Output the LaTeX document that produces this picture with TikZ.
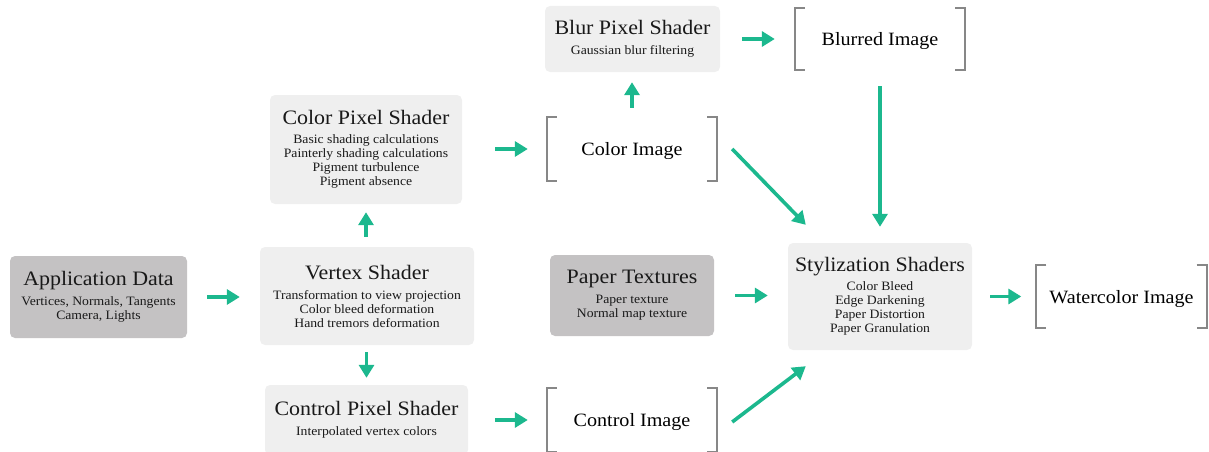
\documentclass[tikz,border=0pt]{standalone}
\usepackage{fontspec}
\setmainfont{Liberation Serif}[FakeStretch=1.07]
\usetikzlibrary{arrows.meta}
\definecolor{lightbox}{RGB}{239,239,239}
\definecolor{darkbox}{RGB}{196,194,195}
\definecolor{flowc}{RGB}{28,184,142}
\definecolor{brk}{RGB}{135,135,135}
\newcommand{\ttl}{\fontsize{20.5}{23}\selectfont}
\newcommand{\imgf}{\fontsize{18.8}{22}\selectfont}
\newcommand{\sbt}{\fontsize{12.8}{14}\selectfont}
\begin{document}
\begin{tikzpicture}[x=1pt,y=-1pt,
  box/.style={rounded corners=5pt, align=center, inner sep=0pt, text=black!90, font=\sbt},
  light/.style={box, fill=lightbox},
  dark/.style={box, fill=darkbox},
  imgnode/.style={inner sep=0pt, minimum width=170pt, font=\imgf, text depth=0pt},
  bracket/.style={draw=brk, line width=1.8pt},
  flow/.style={-{Triangle[length=13pt,width=15pt]}, line width=3.6pt, draw=flowc}]
\useasboundingbox (0,0) rectangle (1209,452);

% boxes
\node[dark, minimum width=177pt, minimum height=82pt] (app) at (98.5,297)
  {{\ttl Application Data}\\[6pt]Vertices, Normals, Tangents\\Camera, Lights};
\node[light, minimum width=214pt, minimum height=98pt] (vs) at (367,296)
  {{\ttl Vertex Shader}\\[6pt]Transformation to view projection\\Color bleed deformation\\Hand tremors deformation};
\node[light, minimum width=192pt, minimum height=109pt] (cps) at (366,149.5)
  {{\ttl Color Pixel Shader}\\[5pt]Basic shading calculations\\Painterly shading calculations\\Pigment turbulence\\Pigment absence};
\node[light, minimum width=203pt, minimum height=70pt] (ctps) at (366.5,420)
  {{\ttl Control Pixel Shader}\\[6pt]Interpolated vertex colors};
\node[light, minimum width=175pt, minimum height=66pt] (blur) at (632.5,39)
  {{\ttl Blur Pixel Shader}\\[6pt]Gaussian blur filtering};
\node[dark, minimum width=164pt, minimum height=81pt] (paper) at (632,295.5)
  {{\ttl Paper Textures}\\[6pt]Paper texture\\Normal map texture};
\node[light, minimum width=184pt, minimum height=107pt] (sty) at (880,296.5)
  {{\ttl Stylization Shaders}\\[5pt]Color Bleed\\Edge Darkening\\Paper Distortion\\Paper Granulation};

% image nodes with brackets
\node[imgnode, minimum height=62pt] (blurred) at (880,39) {Blurred Image};
\node[imgnode, minimum height=64pt] (ci) at (632,149) {Color Image};
\node[imgnode, minimum height=63pt] (cti) at (632,420) {Control Image};
\node[imgnode, minimum height=63pt] (wi) at (1121.5,296.5) {Watercolor Image};

\foreach \n in {blurred,ci,cti,wi}{
  \draw[bracket] ([xshift=10pt]\n.north west) -- (\n.north west) -- (\n.south west) -- ([xshift=10pt]\n.south west);
  \draw[bracket] ([xshift=-10pt]\n.north east) -- (\n.north east) -- (\n.south east) -- ([xshift=-10pt]\n.south east);
}

% connectors
\draw[flow, shorten <=20pt, shorten >=20pt] (app.east) -- (vs.west |- app.east);
\draw[flow, shorten <=10pt, shorten >=8pt] (vs.north -| cps.south) -- (cps.south);
\draw[flow, shorten <=7pt, shorten >=7pt] (vs.south -| ctps.north) -- (ctps.north);
\draw[flow, shorten <=33pt, shorten >=19pt] (cps.east |- ci.west) -- (ci.west);
\draw[flow, shorten <=27pt, shorten >=19pt] (ctps.east) -- (cti.west);
\draw[flow, shorten <=9pt, shorten >=10pt] (ci.north) -- (blur.south -| ci.north);
\draw[flow, shorten <=22pt, shorten >=20pt] (blur.east) -- (blurred.west);
\draw[flow, shorten <=16pt, shorten >=16pt] (blurred.south) -- (sty.north);
\draw[flow, shorten <=21pt, shorten >=20pt] (paper.east) -- (sty.west |- paper.east);
\draw[flow, shorten <=18pt, shorten >=15pt] (sty.east |- wi.west) -- (wi.west);
\draw[flow] ([xshift=15pt]ci.east) -- ([xshift=18pt,yshift=18pt]sty.north west);
\draw[flow] ([xshift=15pt,yshift=-2pt]cti.east) -- ([xshift=18pt,yshift=-16pt]sty.south west);
\end{tikzpicture}
\end{document}
